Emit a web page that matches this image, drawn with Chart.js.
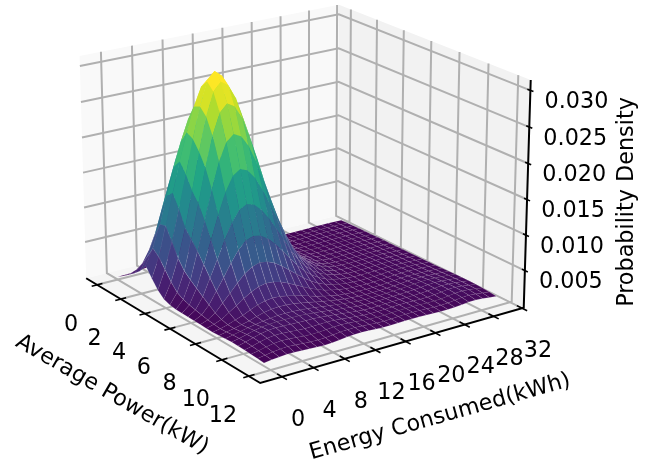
<!DOCTYPE html>
<html>
<head>
<meta charset="utf-8">
<title>Probability density surface</title>
<script src="https://cdn.jsdelivr.net/npm/chart.js@4/dist/chart.umd.min.js"></script>
<style>
  html, body { margin: 0; padding: 0; background: #fff; }
  #wrap { width: 665px; height: 465px; }
</style>
</head>
<body>
<div id="wrap"><canvas id="myChart" width="665" height="465"></canvas></div>
<script>
// values
var powerGrid = [0, 0.48, 0.96, 1.44, 1.92, 2.4, 2.88, 3.36, 3.84, 4.32, 4.8, 5.28, 5.76, 6.24, 6.72, 7.2, 7.68, 8.16, 8.64, 9.12, 9.6, 10.08, 10.56, 11.04, 11.52];
var energyGrid = [0, 0.97, 1.94, 2.91, 3.88, 4.85, 5.82, 6.79, 7.76, 8.73, 9.7, 10.67, 11.64, 12.61, 13.58, 14.55, 15.52, 16.49, 17.46, 18.43, 19.4, 20.37, 21.34, 22.31, 23.28, 24.25, 25.22, 26.19, 27.16, 28.13, 29.1, 30.07, 31.04];

// density, one row per powerGrid entry, in units of 0.00001
var density = [
  [10,14,20,28,38,50,70,92,112,110,104,94,84,72,58,46,35,26,20,16,14,13,14,15,15,16,18,20,22,22,20,18,16],
  [70,85,125,190,260,340,425,495,540,530,500,450,390,320,250,190,135,96,66,45,32,24,20,18,18,20,22,24,26,26,24,22,20],
  [140,180,270,400,540,690,830,950,1020,1000,945,845,720,587,451,333,236,162,109,73,50,36,28,26,26,28,30,32,34,34,30,28,26],
  [210,310,490,740,1000,1260,1480,1630,1680,1610,1480,1300,1092,879,672,494,348,235,155,100,66,44,33,28,30,30,32,34,36,36,34,30,28],
  [290,470,740,1080,1420,1750,2020,2200,2260,2170,1985,1730,1437,1156,883,648,455,306,201,127,83,54,39,32,32,34,36,38,40,40,36,32,30],
  [410,640,960,1340,1720,2060,2340,2540,2620,2530,2335,2065,1744,1402,1071,785,550,369,242,153,99,63,45,36,36,36,38,40,42,42,38,34,32],
  [280,560,980,1420,1840,2220,2560,2810,2905,2836,2634,2329,1966,1580,1206,883,618,414,270,169,109,68,48,38,38,38,40,42,44,44,40,36,34],
  [160,430,800,1240,1700,2170,2600,2920,3045,2958,2748,2430,2052,1650,1260,924,648,435,285,180,115,73,52,42,40,40,42,44,46,46,42,38,36],
  [80,300,611,1018,1513,2036,2501,2821,2937,2867,2664,2356,1989,1600,1222,896,629,422,277,175,114,72,52,42,40,42,44,46,48,46,44,40,36],
  [50,200,480,900,1379,1856,2279,2570,2676,2612,2427,2147,1813,1459,1115,818,575,387,255,165,112,72,54,44,42,44,46,50,52,50,46,40,36],
  [35,150,400,780,1185,1593,1955,2204,2295,2241,2082,1842,1557,1255,961,708,502,345,235,160,112,78,58,48,46,48,50,54,56,54,48,42,38],
  [30,120,330,640,959,1286,1578,1778,1851,1807,1680,1487,1257,1015,780,578,412,287,198,135,98,70,56,48,48,50,54,58,60,56,50,44,38],
  [28,100,260,497,731,978,1198,1349,1404,1371,1275,1129,956,774,596,444,320,226,160,112,84,64,52,46,48,52,56,60,62,58,52,46,40],
  [26,80,195,362,527,703,859,966,1005,982,913,810,687,557,432,325,238,172,125,90,70,56,48,46,48,52,58,62,62,58,54,48,42],
  [24,62,130,245,355,472,576,647,678,662,617,548,467,380,298,226,168,124,92,70,56,48,44,44,48,54,60,64,64,60,56,50,44],
  [22,50,90,160,229,301,366,411,434,424,396,353,302,248,196,152,116,90,68,54,46,42,40,42,48,56,62,66,66,62,58,54,46],
  [20,40,66,104,142,190,232,262,274,268,250,225,195,164,132,106,84,66,54,46,42,40,40,44,50,58,66,70,70,66,62,58,50],
  [26,46,66,90,116,148,176,195,202,198,190,172,152,130,110,92,76,62,52,46,44,44,46,50,56,64,72,78,78,74,68,62,54],
  [32,54,76,98,118,134,148,158,160,158,152,140,128,112,98,84,72,60,52,48,48,50,54,58,62,70,78,86,88,84,76,68,58],
  [38,60,86,112,132,142,148,150,150,148,142,132,120,106,92,80,68,58,52,50,52,56,60,64,66,72,80,90,94,90,80,70,60],
  [36,62,92,120,138,144,142,136,132,130,128,122,112,100,88,76,64,56,52,54,58,62,66,66,66,70,76,88,96,94,84,72,60],
  [32,56,84,108,120,120,112,104,98,98,102,104,100,92,80,70,60,54,54,58,62,66,68,66,62,64,70,82,94,96,86,72,58],
  [26,46,68,88,96,92,84,74,68,70,78,86,88,84,74,64,56,52,54,60,64,66,66,62,58,58,62,74,88,92,82,68,52],
  [20,36,52,64,68,62,54,46,42,46,56,68,72,72,66,58,50,48,52,58,60,60,58,54,50,50,54,64,76,80,72,58,44],
  [14,26,36,44,44,38,32,26,24,28,38,50,56,58,54,48,42,42,46,50,50,48,46,42,40,40,44,52,60,62,56,44,32]
];
var densityUnit = 0.00001;

var powerTicks = [0, 2, 4, 6, 8, 10, 12];
var energyTicks = [0, 4, 8, 12, 16, 20, 24, 28, 32];
var densityTicks = [0.005, 0.01, 0.015, 0.02, 0.025, 0.03];
var densityTickLabels = ['0.005', '0.010', '0.015', '0.020', '0.025', '0.030'];

var powerLim = [-0.94, 12.82];
var energyLim = [-2.72, 32.25];
var densityLim = [-0.0003, 0.0314];

// camera, same idea as matplotlib's view_init(elev=20, azim=-35)
var elev = 20 * Math.PI / 180;
var azim = -35 * Math.PI / 180;
var dist = 10;
var box = [1.19, 1.19, 0.893];
var viewScale = 268;
var viewX = 302;
var viewY = 182;

var textColor = '#000000';
var gridColor = '#b0b0b0';
var viridis = [[68,1,84],[72,36,117],[65,68,135],[53,95,141],[42,120,142],[33,145,140],[34,168,132],[68,191,112],[122,209,81],[189,223,38],[253,231,37]];

function viridisColor(t) {
    var pos = Math.max(0, Math.min(1, t)) * (viridis.length - 1);
    var i = Math.min(Math.floor(pos), viridis.length - 2);
    var f = pos - i;
    var a = viridis[i], b = viridis[i + 1];
    return 'rgb(' + Math.round(a[0] + (b[0] - a[0]) * f) + ',' + Math.round(a[1] + (b[1] - a[1]) * f) + ',' + Math.round(a[2] + (b[2] - a[2]) * f) + ')';
}

function toWorld(p, e, z) {
    return [
        ((p - powerLim[0]) / (powerLim[1] - powerLim[0]) - 0.5) * box[0],
        ((e - energyLim[0]) / (energyLim[1] - energyLim[0]) - 0.5) * box[1],
        ((z - densityLim[0]) / (densityLim[1] - densityLim[0]) - 0.5) * box[2]
    ];
}

function depth(p, e, z) {
    var w = toWorld(p, e, z);
    return w[0] * Math.cos(elev) * Math.cos(azim) + w[1] * Math.cos(elev) * Math.sin(azim) + w[2] * Math.sin(elev);
}

// 3d value -> value on the flat x/y scales of the chart
function project(p, e, z) {
    var w = toWorld(p, e, z);
    var ux = -Math.sin(azim) * w[0] + Math.cos(azim) * w[1];
    var vy = -Math.cos(azim) * Math.sin(elev) * w[0] - Math.sin(azim) * Math.sin(elev) * w[1] + Math.cos(elev) * w[2];
    var f = dist / (dist - depth(p, e, z));
    return { x: viewX + viewScale * ux * f, y: viewY - viewScale * vy * f };
}

function shape(points, color, edge) {
    return { data: points, showLine: true, fill: 'shape', backgroundColor: color, borderColor: edge || color, borderWidth: edge ? 0.5 : 0, pointRadius: 0, tension: 0 };
}

function line(points, color, width) {
    return { data: points, showLine: true, fill: false, borderColor: color, borderWidth: width, pointRadius: 0, tension: 0 };
}

var pMin = powerLim[0], pMax = powerLim[1];
var eMin = energyLim[0], eMax = energyLim[1];
var zMin = densityLim[0], zMax = densityLim[1];

// drawn back to front
var layers = [];

// panes
layers.push(shape([project(pMin, eMin, zMin), project(pMin, eMax, zMin), project(pMin, eMax, zMax), project(pMin, eMin, zMax)], '#f9f9f9'));
layers.push(shape([project(pMin, eMax, zMin), project(pMax, eMax, zMin), project(pMax, eMax, zMax), project(pMin, eMax, zMax)], '#f2f2f2'));
layers.push(shape([project(pMin, eMin, zMin), project(pMax, eMin, zMin), project(pMax, eMax, zMin), project(pMin, eMax, zMin)], '#f5f5f5'));

// grid
powerTicks.forEach(function (p) {
    layers.push(line([project(p, eMin, zMin), project(p, eMax, zMin), project(p, eMax, zMax)], gridColor, 2));
});
energyTicks.forEach(function (e) {
    layers.push(line([project(pMax, e, zMin), project(pMin, e, zMin), project(pMin, e, zMax)], gridColor, 2));
});
densityTicks.forEach(function (z) {
    layers.push(line([project(pMax, eMax, z), project(pMin, eMax, z), project(pMin, eMin, z)], gridColor, 2));
});

// axis lines and ticks
layers.push(line([project(pMin, eMin, zMin), project(pMax, eMin, zMin), project(pMax, eMax, zMin), project(pMax, eMax, zMax)], '#000000', 2));
powerTicks.forEach(function (p) {
    layers.push(line([project(p, eMin - 0.7, zMin), project(p, eMin + 0.7, zMin)], '#000000', 1.6));
});
energyTicks.forEach(function (e) {
    layers.push(line([project(pMax + 0.35, e, zMin), project(pMax - 0.35, e, zMin)], '#000000', 1.6));
});
densityTicks.forEach(function (z) {
    layers.push(line([project(pMax + 0.2, eMax, z), project(pMax - 0.2, eMax, z)], '#000000', 1.6));
});

// surface faces, farthest first
var faces = [];
var peak = 0;
density.forEach(function (row) { row.forEach(function (v) { peak = Math.max(peak, v); }); });
for (var i = 0; i < powerGrid.length - 1; i++) {
    for (var j = 0; j < energyGrid.length - 1; j++) {
        var z00 = density[i][j], z01 = density[i][j + 1], z10 = density[i + 1][j], z11 = density[i + 1][j + 1];
        var mean = (z00 + z01 + z10 + z11) / 4;
        faces.push({
            d: depth((powerGrid[i] + powerGrid[i + 1]) / 2, (energyGrid[j] + energyGrid[j + 1]) / 2, mean * densityUnit),
            points: [
                project(powerGrid[i], energyGrid[j], z00 * densityUnit),
                project(powerGrid[i + 1], energyGrid[j], z10 * densityUnit),
                project(powerGrid[i + 1], energyGrid[j + 1], z11 * densityUnit),
                project(powerGrid[i], energyGrid[j + 1], z01 * densityUnit)
            ],
            // the faces are wider than the original mesh, so push the top of the map a bit
            color: viridisColor(mean / (peak * 0.95)),
            // the seams only show on the low part of the surface
            edge: mean < 800 ? 'rgba(255,255,255,0.22)' : null
        });
    }
}
faces.sort(function (a, b) { return a.d - b.d; });
faces.forEach(function (f) { layers.push(shape(f.points, f.color, f.edge)); });

// text sits on the same scales as the marks
var labelsPlugin = {
    id: 'labels3d',
    afterDatasetsDraw: function (chart) {
        var ctx = chart.ctx;
        var sx = chart.scales.x, sy = chart.scales.y;
        function put(text, x, y, angle, size) {
            ctx.save();
            ctx.translate(sx.getPixelForValue(x), sy.getPixelForValue(y));
            ctx.rotate(angle * Math.PI / 180);
            ctx.font = size + 'px "DejaVu Sans"';
            ctx.fillStyle = textColor;
            ctx.textAlign = 'center';
            ctx.textBaseline = 'middle';
            ctx.fillText(text, 0, 0);
            ctx.restore();
        }
        powerTicks.forEach(function (p) {
            var t = project(p, eMin, zMin);
            put(String(p), t.x - 26, t.y + 40, 0, 22.3);
        });
        energyTicks.forEach(function (e) {
            var t = project(pMax, e, zMin);
            put(String(e), t.x + 16, t.y + 43, 0, 22.3);
        });
        densityTicks.forEach(function (z, k) {
            var t = project(pMax, eMax, z);
            put(densityTickLabels[k], t.x + 46, t.y + 12, 0, 22.3);
        });
        put('Average Power(kW)', 112, 395, 30, 22.3);
        put('Energy Consumed(kWh)', 440, 417, -15.8, 22.3);
        put('Probability Density', 627, 202, -90, 22.3);
    }
};

var ctx = document.getElementById('myChart').getContext('2d');
var chart = new Chart(ctx, {
    type: 'scatter',
    data: { datasets: layers.slice().reverse() },
    plugins: [labelsPlugin],
    options: {
        responsive: false,
        animation: false,
        events: [],
        layout: { padding: 0 },
        plugins: { legend: { display: false }, tooltip: { enabled: false } },
        scales: {
            x: { type: 'linear', min: 0, max: 665, display: false },
            y: { type: 'linear', min: 0, max: 465, reverse: true, display: false }
        }
    }
});
</script>
</body>
</html>
